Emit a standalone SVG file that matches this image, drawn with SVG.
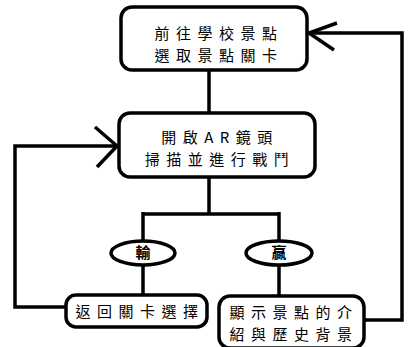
<svg xmlns="http://www.w3.org/2000/svg" width="408" height="347" viewBox="0 0 408 347">
<style>
.box{fill:#fff;stroke:#000;stroke-width:3.5}
.ln{fill:none;stroke:#000;stroke-width:3.5;stroke-linejoin:miter}
.t{font-family:"Noto Sans CJK TC","Noto Sans CJK SC",sans-serif;font-size:15px;letter-spacing:6.5px;text-anchor:middle;fill:#000}
.s{font-family:"Noto Sans CJK TC","Noto Sans CJK SC",sans-serif;font-size:15px;font-weight:bold;text-anchor:middle;fill:#000}
</style>
<rect width="408" height="347" fill="#fff"/>
<g id="connectors">
<path class="ln" d="M209,70 V113"/>
<path class="ln" d="M209,177 V214 M143,214 H279 M143,212 V242 M279,212 V242"/>
<path class="ln" d="M143,265 V296 M279,265 V296"/>
<path class="ln" d="M66,307 H15 V146 H117"/>
<path class="ln" d="M95,127 L117,146 L97,167"/>
<path class="ln" d="M364,320 H402 V33 H309"/>
<path class="ln" d="M337,23 L309,33 L334,50"/>
</g>
<g id="node-start">
<rect class="box" x="121" y="7" width="186" height="63" rx="11"/>
<text class="t" x="219" y="39">前往學校景點</text>
<text class="t" x="219" y="61">選取景點關卡</text>
</g>
<g id="node-ar">
<rect class="box" x="119" y="113" width="196" height="64" rx="11"/>
<text class="t" x="220" y="143">開啟AR鏡頭</text>
<text class="t" x="220" y="165">掃描並進行戰鬥</text>
</g>
<g id="node-lose">
<ellipse class="box" cx="143" cy="253" rx="32" ry="12"/>
<text class="s" x="143" y="258">輸</text>
</g>
<g id="node-win">
<ellipse class="box" cx="279" cy="253" rx="33" ry="12"/>
<text class="s" x="279" y="258">贏</text>
</g>
<g id="node-return">
<rect class="box" x="66" y="295" width="141" height="32" rx="10"/>
<text class="t" x="140" y="317">返回關卡選擇</text>
</g>
<g id="node-display">
<rect class="box" x="219" y="296" width="145" height="52" rx="11"/>
<text class="t" x="294" y="318">顯示景點的介</text>
<text class="t" x="294" y="340">紹與歷史背景</text>
</g>
</svg>
